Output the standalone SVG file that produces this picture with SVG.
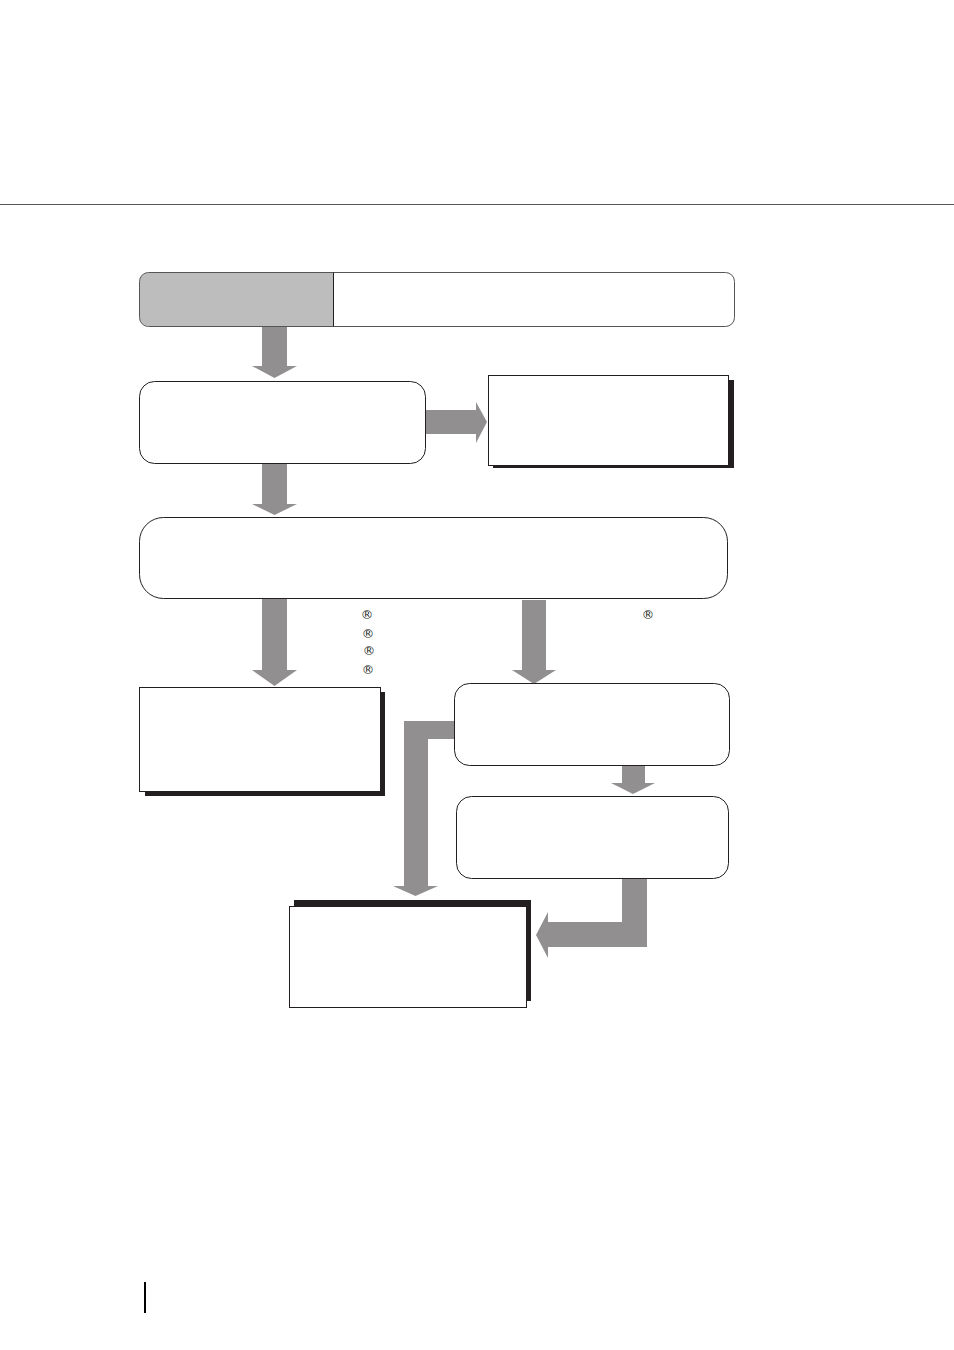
<svg xmlns="http://www.w3.org/2000/svg" width="954" height="1350" viewBox="0 0 954 1350">
<style>
.box{fill:#fff;stroke:#231f20;stroke-width:1}
.sh{fill:#231f20}
.arr{fill:#918f8f;stroke:none}
.reg{font-family:"DejaVu Sans","Liberation Sans",sans-serif;font-size:12.5px;fill:#231f20;font-variant-emoji:text}
</style>
<rect width="954" height="1350" fill="#fff"/>
<line x1="0" y1="204.5" x2="954" y2="204.5" stroke="#555" stroke-width="1"/>
<g id="connectors">
<polygon class="arr" points="262,326 287,326 287,366 297,366 274.5,378 252,366 262,366"/>
<polygon class="arr" points="425,410 476,410 476,402 487,422 476,443 476,434 425,434"/>
<polygon class="arr" points="262,463 287,463 287,504 297,504 274.5,515 252,504 262,504"/>
<polygon class="arr" points="262,598 287,598 287,670 297,670 274.5,686 252,670 262,670"/>
<polygon class="arr" points="522,600 546,600 546,670 556,670 534,684 512,670 522,670"/>
<polygon class="arr" points="622,765 645,765 645,783 655,783 633,794 611,783 622,783"/>
<polygon class="arr" points="454,721 404,721 404,886 393,886 415.5,896 438,886 428,886 428,739 454,739"/>
<polygon class="arr" points="622,878 647,878 647,947 548,947 548,958 536,935 548,912 548,922 622,922"/>
</g>
<g id="node-top">
<path d="M333,273 V326 H148.5 A9,9 0 0 1 139.5,317 V281.5 A9,9 0 0 1 148.5,273 Z" fill="#bdbdbd"/>
<rect x="139.5" y="272.5" width="595" height="54" rx="9" fill="none" stroke="#555"/>
<line x1="333.5" y1="272.5" x2="333.5" y2="326.5" stroke="#231f20"/>
</g>
<g id="node-2"><rect class="box" x="139.5" y="381.5" width="286" height="82" rx="15"/></g>
<g id="node-3">
<rect class="sh" x="493" y="380" width="241" height="88"/>
<rect class="box" x="488.5" y="375.5" width="240" height="90"/>
</g>
<g id="node-4"><rect class="box" x="139.5" y="517.5" width="588" height="81" rx="24"/></g>
<g id="labels">
<text class="reg" x="367" y="619" text-anchor="middle">&#xAE;&#xFE0E;</text>
<text class="reg" x="368" y="638" text-anchor="middle">&#xAE;&#xFE0E;</text>
<text class="reg" x="369" y="655" text-anchor="middle">&#xAE;&#xFE0E;</text>
<text class="reg" x="368" y="674" text-anchor="middle">&#xAE;&#xFE0E;</text>
<text class="reg" x="648" y="619" text-anchor="middle">&#xAE;&#xFE0E;</text>
</g>
<g id="node-5">
<rect class="sh" x="145" y="692" width="240" height="104"/>
<rect class="box" x="139.5" y="687.5" width="241" height="104"/>
</g>
<g id="node-6"><rect class="box" x="454.5" y="683.5" width="275" height="82" rx="15"/></g>
<g id="node-7"><rect class="box" x="456.5" y="796.5" width="272" height="82" rx="15"/></g>
<g id="node-8">
<rect class="sh" x="294" y="900" width="237" height="101"/>
<rect class="box" x="289.5" y="906.5" width="237" height="101"/>
</g>
<line x1="145" y1="1282" x2="145" y2="1313" stroke="#000" stroke-width="2"/>
</svg>
